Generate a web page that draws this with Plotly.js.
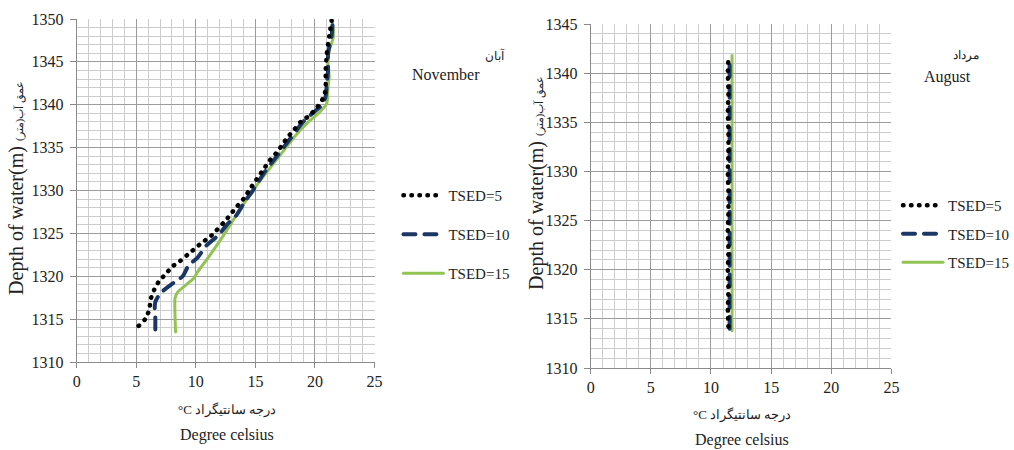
<!DOCTYPE html>
<html><head><meta charset="utf-8">
<script src="https://cdn.plot.ly/plotly-3.0.1.min.js"></script>
<style>body{margin:0;padding:0;background:#fff}#chart{width:1014px;height:450px}
#chart .js-line{stroke-linecap:round}</style>
</head><body><div id="chart"></div>
<script>
// ---- November (آبان) ----
const novDepth5 = [1314.2, 1315.0, 1316.1, 1317.3, 1318.4, 1319.4, 1320.3, 1321.1, 1321.8, 1322.5, 1323.2, 1323.9, 1324.6, 1325.3, 1326.2, 1327.0, 1327.9, 1329.0, 1330.3, 1331.3, 1332.5, 1333.5, 1334.3, 1335.2, 1336.2, 1337.0, 1338.0, 1338.6, 1339.4, 1340.3, 1341.1, 1342.0, 1344.0, 1346.0, 1348.0, 1349.8];
const novTemp5  = [5.2, 5.75, 6.1, 6.2, 6.5, 6.9, 7.5, 8.0, 8.7, 9.3, 9.9, 10.5, 11.2, 11.7, 12.3, 12.8, 13.3, 14.0, 14.6, 15.1, 15.7, 16.2, 16.7, 17.2, 17.7, 18.2, 18.8, 19.4, 20.0, 20.5, 20.8, 20.9, 20.9, 21.0, 21.2, 21.4];
const novDepth10 = [1313.8, 1315.2, 1316.3, 1317.0, 1318.0, 1319.0, 1320.0, 1321.3, 1322.1, 1323.6, 1324.8, 1326.0, 1327.1, 1328.9, 1329.8, 1332.0, 1334.0, 1336.0, 1338.0, 1339.0, 1340.0, 1341.0, 1342.5, 1344.0, 1346.0, 1348.0, 1350.0];
const novTemp10  = [6.6, 6.6, 6.55, 6.6, 7.0, 7.9, 8.9, 9.4, 10.1, 10.9, 11.9, 12.6, 13.4, 14.2, 14.7, 15.7, 16.8, 17.9, 19.0, 19.8, 20.6, 20.9, 21.0, 21.1, 21.1, 21.4, 21.5];
const novDepth15 = [1313.5, 1315.5, 1317.4, 1318.1, 1319.8, 1320.4, 1322.3, 1324.5, 1326.9, 1330.4, 1333.9, 1336.3, 1338.0, 1339.0, 1340.2, 1342.1, 1343.3, 1344.8, 1346.4, 1347.6, 1348.7, 1349.9];
const novTemp15  = [8.3, 8.25, 8.25, 8.45, 9.85, 10.1, 11.1, 12.2, 13.3, 15.0, 16.95, 18.3, 19.45, 20.3, 21.0, 21.1, 21.2, 21.1, 21.2, 21.5, 21.55, 21.4];

// ---- August (مرداد) ----
const augDepth5 = [1314.2, 1316.0, 1318.0, 1320.0, 1322.0, 1324.0, 1326.0, 1328.0, 1330.0, 1332.0, 1334.0, 1336.0, 1338.0, 1340.0, 1341.7];
const augTemp5  = [11.45, 11.4, 11.45, 11.4, 11.45, 11.4, 11.45, 11.45, 11.4, 11.45, 11.45, 11.4, 11.45, 11.4, 11.45];
const augDepth10 = [1314.0, 1320.0, 1330.0, 1341.7];
const augTemp10  = [11.55, 11.55, 11.55, 11.55];
const augDepth15 = [1313.8, 1320.0, 1330.0, 1341.8];
const augTemp15  = [11.75, 11.75, 11.75, 11.75];

const seriesNames = ['TSED=5', 'TSED=10', 'TSED=15'];
const xTicks = [0, 5, 10, 15, 20, 25];

const FONT = 'Liberation Serif';
const styles = [
  {color: '#000000', width: 4.5, dash: '0.5px,7.5px'},
  {color: '#1b3766', width: 4, dash: '12px,9px'},
  {color: '#92c453', width: 3, dash: 'solid'}
];

function mk(x, y, i, xa, ya, lg) {
  return {x: x, y: y, type: 'scatter', mode: 'lines', name: seriesNames[i],
    xaxis: xa, yaxis: ya, legend: lg, legendgroup: lg + i, legendrank: i + 1,
    line: Object.assign({shape: 'spline', smoothing: 0.5}, styles[i]), hoverinfo: 'skip'};
}

const traces = [
  mk(novTemp15, novDepth15, 2, 'x', 'y', 'legend'),
  mk(novTemp10, novDepth10, 1, 'x', 'y', 'legend'),
  mk(novTemp5, novDepth5, 0, 'x', 'y', 'legend'),
  mk(augTemp15, augDepth15, 2, 'x2', 'y2', 'legend2'),
  mk(augTemp10, augDepth10, 1, 'x2', 'y2', 'legend2'),
  mk(augTemp5, augDepth5, 0, 'x2', 'y2', 'legend2')
];

function xax(dom) {
  return {domain: dom, range: [0, 25], tickvals: xTicks, showgrid: true, gridcolor: '#9c9c9c', gridwidth: 1,
    minor: {dtick: 1, showgrid: true, gridcolor: '#cccccc', gridwidth: 1},
    showline: true, linecolor: '#8a8a8a', linewidth: 1, ticks: 'outside', ticklen: 5, tickcolor: '#8a8a8a',
    zeroline: false, tickfont: {family: FONT, size: 16, color: '#222'}, automargin: false, fixedrange: true};
}
function yax(dom, rng, anchor) {
  const vals = [];
  for (let v = rng[0]; v <= rng[1]; v += 5) vals.push(v);
  return {domain: dom, range: rng, tickvals: vals, anchor: anchor, showgrid: true, gridcolor: '#9c9c9c', gridwidth: 1,
    minor: {dtick: 1, showgrid: true, gridcolor: '#cccccc', gridwidth: 1},
    showline: true, linecolor: '#8a8a8a', linewidth: 1, ticks: 'outside', ticklen: 6, tickcolor: '#8a8a8a',
    ticklabelstandoff: 3,
    zeroline: false, tickfont: {family: FONT, size: 16, color: '#222'}, automargin: false, fixedrange: true};
}

const W = 1014, H = 450;
const px = v => v / W, py = v => 1 - v / H;

function ann(x, y, text, size, angle) {
  return {xref: 'paper', yref: 'paper', x: px(x), y: py(y), text: text, showarrow: false,
    xanchor: 'center', yanchor: 'middle', textangle: angle || 0,
    font: {family: FONT, size: size, color: '#222'}};
}

const yTitle = 'Depth of water(m) <span style="font-size:11px">عمق آب(متر)</span>';
const xTitleFa = '°C درجه سانتیگراد';

const layout = {
  width: W, height: H, margin: {l: 0, r: 0, t: 0, b: 0},
  font: {family: FONT, size: 15, color: '#222'},
  paper_bgcolor: '#ffffff', plot_bgcolor: '#ffffff',
  xaxis: Object.assign(xax([px(77), px(376)]), {anchor: 'y'}),
  yaxis: yax([py(362), py(19)], [1310, 1350], 'x'),
  xaxis2: Object.assign(xax([px(593), px(895)]), {anchor: 'y2'}),
  yaxis2: yax([py(368), py(24)], [1310, 1345], 'x2'),
  showlegend: true,
  legend: {x: px(400), y: py(179), xanchor: 'left', yanchor: 'top', bgcolor: 'rgba(0,0,0,0)',
    font: {family: FONT, size: 15, color: '#222'}, traceorder: 'grouped', tracegroupgap: 16.5, itemwidth: 40},
  legend2: {x: px(902), y: py(189), xanchor: 'left', yanchor: 'top', bgcolor: 'rgba(0,0,0,0)',
    font: {family: FONT, size: 15, color: '#222'}, traceorder: 'grouped', tracegroupgap: 6, itemwidth: 40},
  annotations: [
    ann(16, 188, yTitle, 20, -90),
    ann(538, 183, yTitle, 20, -90),
    ann(228, 410, xTitleFa, 13),
    ann(228, 435, 'Degree celsius', 16),
    ann(745, 415, xTitleFa, 13),
    ann(745, 440, 'Degree celsius', 16),
    ann(497, 55, 'آبان', 12),
    ann(448, 75, 'November', 16),
    ann(970, 55, 'مرداد', 12),
    ann(951, 77, 'August', 16)
  ]
};

Plotly.newPlot('chart', traces, layout, {staticPlot: true, displayModeBar: false});
</script></body></html>
